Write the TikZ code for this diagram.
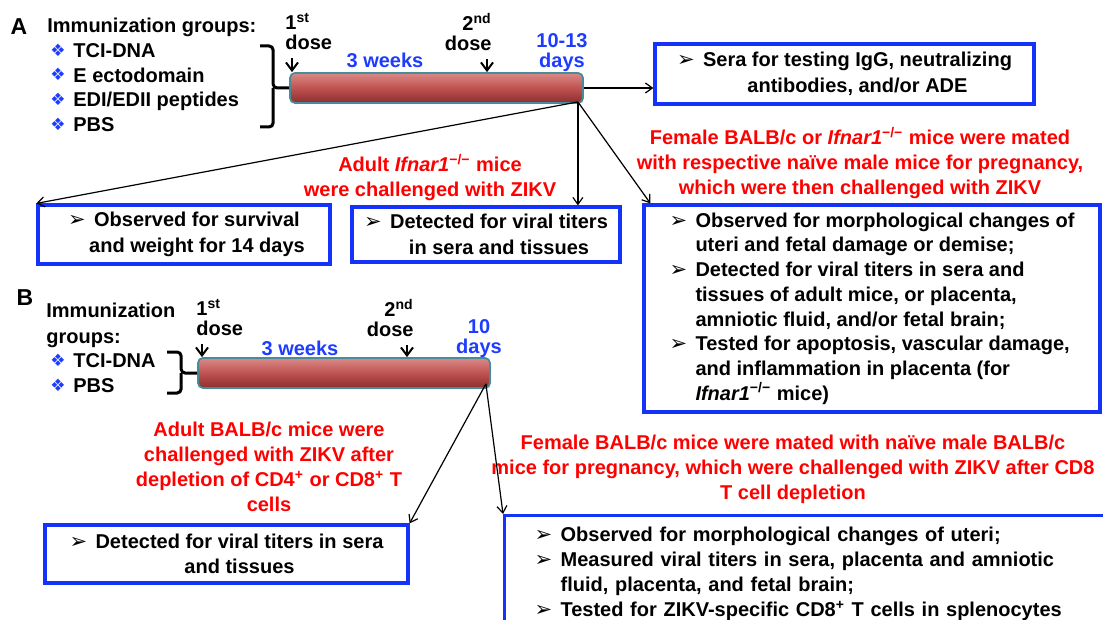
\documentclass[tikz,border=0pt]{standalone}
\usepackage{fontspec}
\setmainfont{Liberation Sans}
\newfontfamily\symf{DejaVu Sans}
\usepackage{tikz}
\usetikzlibrary{arrows.meta,positioning,calc}
\definecolor{boxblue}{RGB}{20,50,250}
\definecolor{lblue}{RGB}{30,60,255}
\definecolor{mred}{RGB}{255,0,0}
\definecolor{bartop}{RGB}{218,138,136}
\definecolor{barmid}{RGB}{192,82,80}
\definecolor{barbot}{RGB}{138,46,46}
\definecolor{barline}{RGB}{72,140,155}
\newcommand{\KO}{\textit{Ifnar1}\textsuperscript{−/−}}
\newcommand{\ITM}[1]{\mbox{\makebox[13pt][l]{\mdseries\symf\fontsize{10.5}{10}\selectfont ➢}#1}}
\newcommand{\CNT}[1]{\mbox{\hspace*{13pt}#1}}
\newcommand{\GRP}[1]{\makebox[11.5pt][l]{\raisebox{0.6pt}{\color{lblue}\symf\fontsize{8.5}{8}\selectfont ❖}}#1}
\tikzset{
	txt/.style={inner sep=0pt, font=\fontsize{10}{12.5}\selectfont\bfseries},
	panel/.style={inner sep=0pt, font=\fontsize{11.5}{12}\selectfont\bfseries},
	redtxt/.style={txt, text=mred, align=center},
	bluetxt/.style={txt, text=lblue, align=center},
	dosetxt/.style={inner sep=0pt, font=\fontsize{10}{10}\selectfont\bfseries},
	bar/.style={draw=barline, line width=0.9pt, rounded corners=2.5pt, top color=bartop, bottom color=barbot, middle color=barmid, minimum height=15pt, inner sep=0pt},
	resbox/.style={draw=boxblue, line width=1.6pt, inner sep=0pt, align=center, font=\fontsize{10}{12.75}\selectfont\bfseries},
	conn/.style={-{Straight Barb[length=3.5pt,width=5pt]}, line width=0.6pt},
	dosearr/.style={-{Straight Barb[length=4pt,width=6pt]}, line width=1pt},
	brace/.style={line width=1.5pt, rounded corners=2pt}
}
\begin{document}
\begin{tikzpicture}[x=0.5pt,y=-0.5pt]
	\useasboundingbox (0,0) rectangle (1103,620);
	% part A
	\node[panel, anchor=north] (labA) at (19,18) {A};
	\node[txt, anchor=north west] (grpA) at (47,18) {Immunization groups:};
	\node[txt, anchor=north west, align=left, font=\fontsize{10}{12.35}\selectfont\bfseries] (listA) at (50,43) {\GRP{TCI-DNA}\\ \GRP{E ectodomain}\\ \GRP{EDI/EDII peptides}\\ \GRP{PBS}};
	\node[bar, minimum width=146.5pt] (barA) at (436.5,88) {};
	\coordinate (brA) at ($(barA.west)+(-16,0)$);
	\draw[brace] (260,46) -| (brA) -- (barA.west);
	\draw[brace] (brA) |- (260,127);
	\node[dosetxt, anchor=north west, align=left] (d1A) at (285,13) {1\textsuperscript{st}\\dose};
	\node[dosetxt, anchor=north east, align=right] (d2A) at (492,13) {2\textsuperscript{nd}\\dose};
	\draw[dosearr] ([shift={(7,8)}]d1A.south west) coordinate (a1) -- (a1 |- barA.north);
	\draw[dosearr] ([shift={(-5,8)}]d2A.south east) coordinate (a2) -- (a2 |- barA.north);
	\node[bluetxt, anchor=north] (wA) at (385,53) {3 weeks};
	\node[bluetxt, anchor=north, font=\fontsize{10}{10}\selectfont\bfseries] (dA) at (562,33) {10-13\\days};
	\node[resbox, minimum width=189.5pt, minimum height=30pt] (sera) at (844.5,74) {\ITM{Sera for testing IgG, neutralizing}\\ \CNT{antibodies, and/or ADE}};
	\draw[conn] (barA.east) -- (barA.east -| sera.west);
	\node[redtxt, anchor=north] (matA) at (860,127) {Female BALB/c or \KO{} mice were mated\\with respective naïve male mice for pregnancy,\\which were then challenged with ZIKV};
	\node[redtxt, anchor=north] (chA) at (430,154) {Adult \KO{} mice\\were challenged with ZIKV};
	\node[resbox, minimum width=146pt, minimum height=29.5pt] (surv) at (184,234.5) {\ITM{Observed for survival}\\ \CNT{and weight for 14 days}};
	\node[resbox, minimum width=134pt, minimum height=27.5pt] (titA) at (486,234.5) {\ITM{Detected for viral titers}\\ \CNT{in sera and tissues}};
	\node[resbox, align=left, minimum width=228pt, minimum height=103.5pt, font=\fontsize{10}{12.35}\selectfont\bfseries] (preg) at (872,308.5) {\ITM{Observed for morphological changes of}\\ \CNT{uteri and fetal damage or demise;}\\ \ITM{Detected for viral titers in sera and}\\ \CNT{tissues of adult mice, or placenta,}\\ \CNT{amniotic fluid, and/or fetal brain;}\\ \ITM{Tested for apoptosis, vascular damage,}\\ \CNT{and inflammation in placenta (for}\\ \CNT{\KO{} mice)}};
	\coordinate (oA) at ($(barA.south east)+(-6,-2)$);
	\draw[conn] (oA) -- (surv.north west);
	\draw[conn] (oA) -- (oA |- titA.north);
	\draw[conn] (oA) -- ([xshift=4pt]preg.north west);
	% part B
	\node[panel, anchor=north] (labB) at (25,289) {B};
	\node[txt, anchor=north west, align=left, font=\fontsize{10}{13}\selectfont\bfseries] (grpB) at (46,303) {Immunization\\groups:};
	\node[txt, anchor=north west, align=left] (listB) at (50,353) {\GRP{TCI-DNA}\\ \GRP{PBS}};
	\node[bar, minimum width=146pt] (barB) at (344,373) {};
	\coordinate (brB) at ($(barB.west)+(-16,0)$);
	\draw[brace] (167,352) -| (brB) -- (barB.west);
	\draw[brace] (brB) |- (167,393);
	\node[dosetxt, anchor=north west, align=left] (d1B) at (196,299) {1\textsuperscript{st}\\dose};
	\node[dosetxt, anchor=north east, align=right] (d2B) at (414,299) {2\textsuperscript{nd}\\dose};
	\draw[dosearr] ([shift={(6,8)}]d1B.south west) coordinate (b1) -- (b1 |- barB.north);
	\draw[dosearr] ([shift={(-7,8)}]d2B.south east) coordinate (b2) -- (b2 |- barB.north);
	\node[bluetxt, anchor=north] (wB) at (300,341) {3 weeks};
	\node[bluetxt, anchor=north, font=\fontsize{10}{10}\selectfont\bfseries] (dB) at (479,319) {10\\days};
	\node[redtxt, anchor=north] (chB) at (269,422) {Adult BALB/c mice were\\challenged with ZIKV after\\depletion of CD4\textsuperscript{+} or CD8\textsuperscript{+} T\\cells};
	\node[redtxt, anchor=north] (matB) at (793,435) {Female BALB/c mice were mated with naïve male BALB/c\\mice for pregnancy, which were challenged with ZIKV after CD8\\T cell depletion};
	\node[resbox, minimum width=181.5pt, minimum height=29pt] (titB) at (226.5,554) {\ITM{Detected for viral titers in sera}\\ \CNT{and tissues}};
	\node[resbox, anchor=north west, align=left, text width=280pt, inner xsep=15pt, minimum height=58pt, font=\fontsize{10}{12.5}\selectfont\bfseries] (pregB) at (503,514) {\ITM{Observed for morphological changes of uteri;}\\ \ITM{Measured viral titers in sera, placenta and amniotic}\\ \CNT{fluid, placenta, and fetal brain;}\\ \ITM{Tested for ZIKV-specific CD8\textsuperscript{+} T cells in splenocytes}};
	\coordinate (oB) at ($(barB.south east)+(-5,-5)$);
	\draw[conn] (oB) -- (titB.north east);
	\draw[conn] (oB) -- (pregB.north west);
\end{tikzpicture}
\end{document}
